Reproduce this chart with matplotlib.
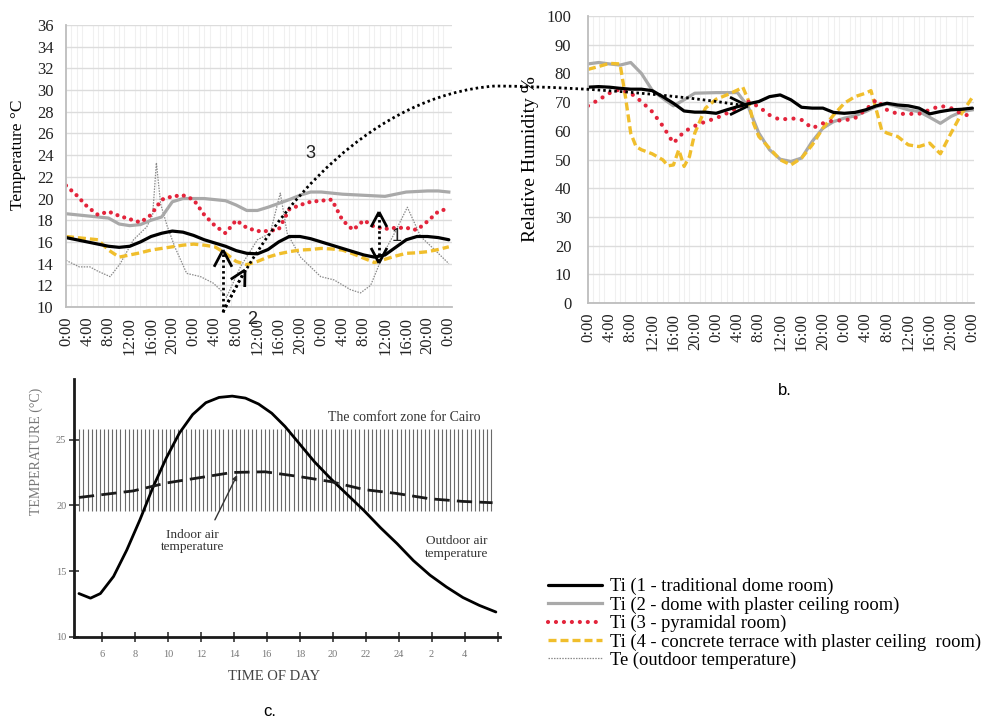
import numpy as np
import matplotlib
matplotlib.use("Agg")
import matplotlib.pyplot as plt
from matplotlib.lines import Line2D
from matplotlib.path import Path
from matplotlib.patches import PathPatch
from matplotlib.transforms import Affine2D

W, H = 982, 720
SERIF = ["Liberation Serif", "DejaVu Serif"]
SANS = ["Liberation Sans", "DejaVu Sans"]

# ---------------- data: panel a (temperature, 72 h) ----------------
hours2 = [0, 2, 4, 6, 8, 10, 12, 14, 16, 18, 20, 22, 24, 26, 28, 30, 32, 34, 36,
          38, 40, 42, 44, 46, 48, 50, 52, 54, 56, 58, 60, 62, 64, 66, 68, 70, 72]
t_dome = [16.4, 16.2, 16.0, 15.8, 15.6, 15.5, 15.6, 16.0, 16.5, 16.8, 17.0, 16.9, 16.6,
          16.2, 15.9, 15.6, 15.2, 14.95, 14.9, 15.3, 16.0, 16.5, 16.5, 16.3, 16.0, 15.7,
          15.4, 15.1, 14.8, 14.6, 14.8, 15.5, 16.2, 16.5, 16.5, 16.4, 16.2]
t_plaster = [18.6, 18.5, 18.4, 18.3, 18.2, 17.65, 17.5, 17.6, 18.0, 18.3, 19.7, 20.0, 20.0,
             20.0, 19.9, 19.8, 19.4, 18.9, 18.9, 19.2, 19.55, 19.9, 20.3, 20.6, 20.6, 20.5,
             20.4, 20.35, 20.3, 20.25, 20.2, 20.4, 20.6, 20.65, 20.7, 20.7, 20.6]
t_pyramid = [21.2, 20.3, 19.25, 18.5, 18.8, 18.4, 18.1, 17.8, 18.5, 19.9, 20.2, 20.3, 19.9,
             18.5, 17.5, 16.8, 18.0, 17.3, 17.0, 17.0, 17.15, 19.0, 19.4, 19.7, 19.8, 19.9,
             18.0, 17.1, 18.0, 17.4, 17.2, 17.3, 17.3, 17.1, 17.9, 18.8, 19.1]
t_terrace = [16.5, 16.4, 16.3, 16.2, 15.25, 14.6, 14.8, 15.0, 15.25, 15.4, 15.55, 15.7, 15.8,
             15.7, 15.55, 14.95, 14.2, 13.9, 14.2, 14.6, 14.9, 15.1, 15.25, 15.3, 15.4, 15.35,
             15.25, 14.9, 14.5, 14.1, 14.4, 14.7, 14.95, 15.0, 15.1, 15.3, 15.55]
te_hours = [0, 2.5, 4.5, 6, 8.3, 10.2, 12.7, 15.2, 16.3, 17, 17.8, 19, 20.5, 22.7, 25.3,
            27.7, 29, 30.2, 32.8, 36, 38.4, 40.3, 41.6, 44.1, 47.9, 50.4, 53.5, 55.4, 57.3,
            59.8, 62, 64.2, 66.7, 69.5, 72]
t_out = [14.3, 13.7, 13.7, 13.3, 12.8, 14.0, 16.2, 17.4, 18.5, 23.3, 19.5, 17.5, 15.5, 13.1,
         12.8, 12.2, 11.6, 10.9, 13.7, 16.2, 16.8, 20.5, 16.8, 14.6, 12.8, 12.5, 11.6, 11.3,
         12.0, 15.0, 17.0, 19.2, 16.5, 15.2, 14.0]

# ---------------- data: panel b (relative humidity, 72 h) ----------------
rh_dome = [75.2, 75.4, 75.2, 74.8, 74.5, 74.5, 74.0, 71.9, 69.6, 66.9, 66.5, 66.5, 66.1,
           67.3, 68.4, 69.4, 70.2, 71.9, 72.5, 70.8, 68.2, 67.9, 67.9, 66.4, 66.1, 66.4,
           67.3, 68.7, 69.6, 69.0, 68.7, 67.9, 65.9, 66.7, 67.3, 67.5, 67.9]
rh_plaster = [83.3, 83.8, 83.3, 82.9, 83.8, 80.0, 74.2, 71.3, 68.7, 70.8, 73.1, 73.2, 73.3,
              73.3, 73.3, 68.4, 59.2, 53.4, 50.1, 49.3, 50.5, 56.3, 60.9, 63.2, 64.4, 65.2,
              66.7, 68.4, 69.4, 68.4, 67.3, 66.7, 64.7, 62.6, 65.0, 66.7, 67.3]
rh_pyramid = [68.7, 70.8, 73.1, 74.5, 73.1, 70.2, 66.7, 61.7, 55.7, 59.7, 61.7, 63.2, 64.4,
              66.1, 67.9, 70.2, 68.4, 65.5, 63.8, 64.4, 63.8, 60.9, 62.6, 63.6, 63.6, 64.4,
              67.3, 70.8, 67.3, 65.9, 65.9, 65.9, 67.3, 68.7, 67.9, 65.9, 65.0]
rh_t_hours = [0, 2, 4, 6, 7, 8, 9, 10, 12, 14, 15, 16, 17, 18, 19, 20, 22, 24, 26, 28, 29,
              30, 31, 32, 34, 36, 38, 40, 42, 44, 46, 48, 50, 52, 53, 54, 55, 56, 58, 60,
              62, 64, 66, 68, 70, 72]
rh_terrace = [81.4, 82.4, 83.5, 83.3, 72.0, 59.2, 54.5, 53.4, 52.0, 49.9, 47.8, 48.1, 53.4,
              47.6, 51.0, 59.2, 67.9, 71.0, 72.5, 74.2, 75.2, 70.8, 62.6, 58.0, 53.9, 49.9,
              48.1, 50.5, 55.1, 60.9, 65.5, 69.6, 71.9, 73.1, 74.0, 67.3, 60.3, 59.2, 58.0,
              55.1, 54.5, 55.7, 52.0, 59.2, 66.1, 71.7]

# ---------------- data: panel c (Cairo design day) ----------------
c_hours_out = [4.6, 5.3, 5.9, 6.7, 7.5, 8.3, 9.1, 9.9, 10.7, 11.5, 12.3, 13.1, 13.9, 14.7,
               15.5, 16.3, 17.1, 17.9, 18.9, 19.9, 20.9, 21.9, 22.9, 23.9, 24.9, 25.9,
               26.9, 27.9, 28.9, 29.9]
c_outdoor = [13.3, 12.95, 13.3, 14.6, 16.6, 18.9, 21.4, 23.6, 25.5, 26.9, 27.8, 28.2, 28.3,
             28.15, 27.7, 27.0, 26.0, 24.8, 23.3, 22.0, 20.8, 19.6, 18.3, 17.1, 15.8, 14.7,
             13.8, 13.0, 12.4, 11.9]
c_hours_in = [4.6, 7.9, 9.9, 11.9, 13.9, 15.9, 17.9, 19.9, 21.9, 23.9, 25.9, 27.9, 29.7]
c_indoor = [20.6, 21.1, 21.7, 22.1, 22.5, 22.55, 22.2, 21.8, 21.2, 20.9, 20.5, 20.3, 20.2]
comfort_low, comfort_high = 19.6, 25.8
c_xticks = [6, 8, 10, 12, 14, 16, 18, 20, 22, 24, 26, 28, 30]
c_xlabels = ["6", "8", "10", "12", "14", "16", "18", "20", "22", "24", "2", "4", ""]

ab_xticks = list(range(0, 73, 4))
ab_xlabels = ["0:00", "4:00", "8:00", "12:00", "16:00", "20:00"] * 3 + ["0:00"]

labels = ["Ti (1 - traditional dome room)",
          "Ti (2 - dome with plaster ceiling room)",
          "Ti (3 - pyramidal room)",
          "Ti (4 - concrete terrace with plaster ceiling  room)",
          "Te (outdoor temperature)"]

# ---------------- styles ----------------
st_dome = dict(color="black", lw=2.3, solid_capstyle="round", solid_joinstyle="round")
st_plaster = dict(color="#a9a9a9", lw=2.3)
st_pyr = dict(color="#e3243b", lw=3.0, linestyle=(0, (0.01, 1.7)), dash_capstyle="round")
st_ter = dict(color="#f0be2c", lw=2.4, linestyle=(0, (2.4, 1.2)))
st_out = dict(color="#8a8a8a", lw=0.9, linestyle=(0, (1.2, 1.0)))

fig = plt.figure(figsize=(W / 100, H / 100), dpi=100)

def px_axes(x0, y0, x1, y1):
    return fig.add_axes([x0 / W, 1 - y1 / H, (x1 - x0) / W, (y1 - y0) / H])

def style_ab(ax):
    for s in ("top", "right"):
        ax.spines[s].set_visible(False)
    for s in ("left", "bottom"):
        ax.spines[s].set_color("#bdbdbd")
        ax.spines[s].set_linewidth(1.3)
    ax.grid(axis="y", color="#dcdcdc", lw=1.0)
    ax.set_xticks(np.arange(0, 73, 1), minor=True)
    ax.grid(axis="x", which="minor", color="#f0f0f0", lw=0.8)
    ax.set_axisbelow(True)
    ax.tick_params(length=0, which="both", labelsize=12, colors="#222222")
    ax.set_xticks(ab_xticks)
    ax.set_xticklabels(ab_xlabels, rotation=90, fontfamily=SERIF)
    for lab in ax.get_yticklabels():
        lab.set_fontfamily(SERIF)

# ---- panel a ----
axa = px_axes(66, 25, 452, 307)
axa.plot(te_hours, t_out, **st_out)
axa.plot(hours2, t_plaster, **st_plaster)
axa.plot(hours2, t_terrace, **st_ter)
axa.plot(hours2, t_dome, **st_dome)
axa.plot(hours2, t_pyramid, **st_pyr)
axa.set_xlim(0, 72.6)
axa.set_ylim(10, 36)
axa.set_yticks(np.arange(10, 37, 2))
style_ab(axa)
axa.tick_params(axis="y", pad=9)
axa.tick_params(axis="x", pad=7)
axa.set_ylabel("Temperature °C", fontsize=12.5, fontfamily=SERIF)
axa.yaxis.set_label_coords(-0.103, 0.54)

# ---- panel b ----
st_pyr_b = dict(st_pyr, linestyle=(0, (0.01, 2.0)))
axb = px_axes(588, 16, 974, 303)
axb.plot(hours2, rh_plaster, **st_plaster)
axb.plot(rh_t_hours, rh_terrace, **st_ter)
axb.plot(hours2, rh_pyramid, **st_pyr_b)
axb.plot(hours2, rh_dome, **st_dome)
axb.set_xlim(0, 72.3)
axb.set_ylim(0, 100)
axb.set_yticks(np.arange(0, 101, 10))
style_ab(axb)
axb.tick_params(axis="y", pad=12)
axb.tick_params(axis="x", pad=7)
axb.set_ylabel("Relative Humidity %", fontsize=14, fontfamily=SERIF)
axb.yaxis.set_label_coords(-0.128, 0.5)

# ---- panel c ----
axc = px_axes(74, 379, 500, 637)
hatch_x = np.arange(4.62, 29.85, 0.25)
axc.vlines(hatch_x, comfort_low, comfort_high, color="#6a6a6a", lw=0.8)
axc.plot(c_hours_out, c_outdoor, color="black", lw=2.0, solid_capstyle="round",
         solid_joinstyle="round")
axc.plot(c_hours_in, c_indoor, color="#1a1a1a", lw=2.0, linestyle=(0, (5.5, 2.6)))
axc.set_xlim(4.3, 30.15)
axc.set_ylim(10, 29.6)
for s in ("top", "right"):
    axc.spines[s].set_visible(False)
for s in ("left", "bottom"):
    axc.spines[s].set_linewidth(2.0)
    axc.spines[s].set_color("#1a1a1a")
axc.set_xticks(c_xticks)
axc.set_xticklabels(c_xlabels, fontfamily=SERIF)
axc.set_yticks([10, 15, 20, 25])
axc.set_yticklabels(["10", "15", "20", "25"], fontfamily=SERIF)
axc.tick_params(direction="inout", length=7, width=1.2, labelsize=7.5,
                labelcolor="#777777", color="#333333")
axc.tick_params(axis="x", pad=6)
axc.tick_params(axis="y", pad=2)
axc.set_ylabel("TEMPERATURE (°C)", fontsize=10, color="#777777", fontfamily=SERIF)
axc.yaxis.set_label_coords(-0.073, 0.72)
axc.set_xlabel("TIME OF DAY", fontsize=10.5, color="#444444", fontfamily=SERIF)
axc.xaxis.set_label_coords(0.469, -0.128)
axc.text(19.7, 26.7, "The comfort zone for Cairo", fontsize=10, color="#333333",
         fontfamily=SERIF, ha="left", va="center")
axc.text(11.5, 17.3, "Indoor air\ntemperature", fontsize=9.5, color="#333333",
         fontfamily=SERIF, ha="center", va="center", linespacing=1.05)
axc.text(27.5, 16.8, "Outdoor air\ntemperature", fontsize=9.5, color="#333333",
         fontfamily=SERIF, ha="center", va="center", linespacing=1.05)
axc.annotate("", xy=(14.2, 22.3), xytext=(12.85, 18.9),
             arrowprops=dict(arrowstyle="-|>", color="#333333", lw=1.0,
                             mutation_scale=7, shrinkA=0, shrinkB=0))

# ---- legend ----
handles = [Line2D([], [], **st_dome), Line2D([], [], **st_plaster),
           Line2D([], [], **dict(st_pyr, linestyle=(0, (0.01, 1.9)))),
           Line2D([], [], **st_ter), Line2D([], [], **st_out)]
fig.legend(handles, labels, loc="upper left", bbox_to_anchor=(548 / W, 1 - 578 / H),
           frameon=False, prop=dict(family=SERIF, size=13.3), handlelength=2.9,
           handletextpad=0.45, labelspacing=0.06, borderaxespad=0, borderpad=0)

# ---- panel letters ----
fig.text(785 / W, 1 - 391 / H, "b.", fontsize=12, fontfamily=SANS, ha="center", va="center")
fig.text(270 / W, 1 - 712 / H, "c.", fontsize=12, fontfamily=SANS, ha="center", va="center")

# ---- annotation arrows (figure pixel coordinates, y downwards) ----
T = Affine2D().scale(1 / W, -1 / H).translate(0, 1) + fig.transFigure
dot = dict(color="black", lw=2.0, linestyle=(0, (0.9, 1.1)), dash_capstyle="butt")

def seg(p, q, **kw):
    fig.add_artist(Line2D([p[0], q[0]], [p[1], q[1]], transform=T, **kw))

def chevron(apex, back, L=19, ang=28):
    b = np.array(back, float)
    b /= np.hypot(*b)
    for s in (1, -1):
        a = np.radians(s * ang)
        r = np.array([b[0] * np.cos(a) - b[1] * np.sin(a), b[0] * np.sin(a) + b[1] * np.cos(a)])
        seg(apex, np.array(apex) + L * r, color="black", lw=2.0, solid_capstyle="butt")

origin = (223, 312)
seg(origin, (223, 252), **dot)
chevron((223, 250), (0, 1))
seg(origin, (244, 272), **dot)
chevron((245, 270), (-0.48, 0.87), L=17)
seg((379, 214), (379, 261), **dot)
chevron((379, 212), (0, 1), L=17)
chevron((379, 263), (0, -1), L=17)

verts = [origin, (278, 200), (375, 95), (495, 86), (600, 87), (700, 98), (746, 106)]
codes = [Path.MOVETO, Path.CURVE4, Path.CURVE4, Path.CURVE4, Path.CURVE4, Path.CURVE4, Path.CURVE4]
fig.add_artist(PathPatch(Path(verts, codes), fill=False, transform=T, **dict(
    edgecolor="black", lw=2.0, linestyle=(0, (0.9, 1.1)))))
chevron((748, 106), (-1, 0.0), L=20, ang=26)

for txt, x, y in (("3", 310, 153), ("1", 397, 237), ("2", 252, 320)):
    fig.text(x / W, 1 - y / H, txt, fontsize=13, fontfamily=SANS, color="#222222",
             ha="center", va="center")

fig.savefig("out.png", dpi=100)
